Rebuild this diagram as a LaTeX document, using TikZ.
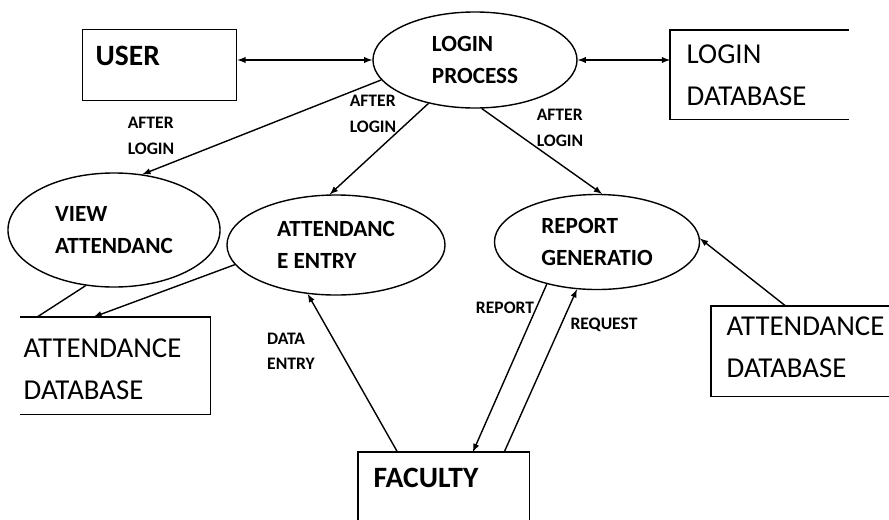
\documentclass[tikz,border=0pt]{standalone}
\usepackage{fontspec}
\setmainfont{Carlito}
\usetikzlibrary{shapes.geometric,calc}

\begin{document}
\begin{tikzpicture}[x=0.025cm, y=-0.025cm, line width=1pt,
    process/.style={draw, ellipse, inner sep=0pt, align=left,
        font=\bfseries\fontsize{16.5}{23}\selectfont},
    entity/.style={rectangle, anchor=north west, inner ysep=0pt, align=left,
        font=\fontsize{20.5}{30}\selectfont},
    flowlabel/.style={align=left, inner sep=0pt,
        font=\bfseries\fontsize{12.5}{18}\selectfont}]
    \useasboundingbox (0,0) rectangle (889,520);

    \node[entity, draw, inner xsep=0.325cm, text width=3.2cm, text height=0.9cm,
        text depth=0.875cm, font=\bfseries\fontsize{21}{30}\selectfont] (user) at (82,29) {USER};
    \node[entity, inner xsep=0.4cm, text width=3.65cm, text height=0.825cm,
        text depth=1.375cm] (logindb) at (670,30) {LOGIN\\DATABASE};
    \node[entity, inner xsep=0.075cm, text width=4.575cm, text height=1.0cm,
        text depth=1.4cm] (attdbl) at (20,317) {ATTENDANCE\\DATABASE};
    \node[entity, inner xsep=0.375cm, text width=3.7cm, text height=0.725cm,
        text depth=1.5cm] (attdbr) at (711,306) {ATTENDANCE\\DATABASE};
    \node[entity, inner xsep=0.375cm, text width=3.5cm, text height=0.875cm,
        text depth=0.825cm, font=\bfseries\fontsize{21}{30}\selectfont] (faculty) at (358,452) {FACULTY};

    \node[process, minimum width=5.1cm, minimum height=2.4cm] (login) at (475,60) {LOGIN\\PROCESS};
    \node[process, minimum width=5.3cm, minimum height=2.85cm] (view) at (114,230) {VIEW\\ATTENDANC};
    \node[process, minimum width=5.45cm, minimum height=2.5cm] (entry) at (336,245) {ATTENDANC\\E ENTRY};
    \node[process, minimum width=5.125cm, minimum height=2.375cm] (report) at (597,242) {REPORT\\GENERATIO};

    \draw (logindb.north east) -- (logindb.north west) -- (logindb.south west) -- (logindb.south east);
    \draw (attdbl.north west) -- (attdbl.north east) -- (attdbl.south east) -- (attdbl.south west);
    \draw (attdbr.north east) -- (attdbr.north west) -- (attdbr.south west) -- (attdbr.south east);
    \draw (faculty.south west) -- (faculty.north west) -- (faculty.north east) -- (faculty.south east);

    \node[flowlabel] (lblview) at (151,136) {AFTER\\LOGIN};
    \node[flowlabel] (lblentry) at (373,114) {AFTER\\LOGIN};
    \node[flowlabel] (lblreport) at (560,128) {AFTER\\LOGIN};
    \node[flowlabel] (lbldata) at (291,351) {DATA\\ENTRY};
    \node[flowlabel] (lblrep) at (505,308) {REPORT};
    \node[flowlabel] (lblreq) at (604,325) {REQUEST};

    \draw[latex-latex] (user.east |- login.west) -- (login.west);
    \draw[latex-latex] (login.east) -- (login.east -| logindb.west);
    \draw[-latex] (login.192) -- (view.63);
    \draw[-latex] (login.223) -- (entry.97);
    \draw[-latex] (login.278) -- (report.84);
    \draw (view.243) -- ($(attdbl.north west)!0.09!(attdbl.north east)$);
    \draw[-latex] (entry.191) -- ($(attdbl.north west)!0.386!(attdbl.north east)$);
    \draw[-latex] ($(faculty.north west)!0.23!(faculty.north east)$) -- (entry.240);
    \draw[-latex] (report.220) -- ($(faculty.north west)!0.67!(faculty.north east)$);
    \draw[-latex] ($(faculty.north west)!0.853!(faculty.north east)$) -- (report.247);
    \draw[-latex] ($(attdbr.north west)!0.416!(attdbr.north east)$) -- (report.2);
\end{tikzpicture}
\end{document}
